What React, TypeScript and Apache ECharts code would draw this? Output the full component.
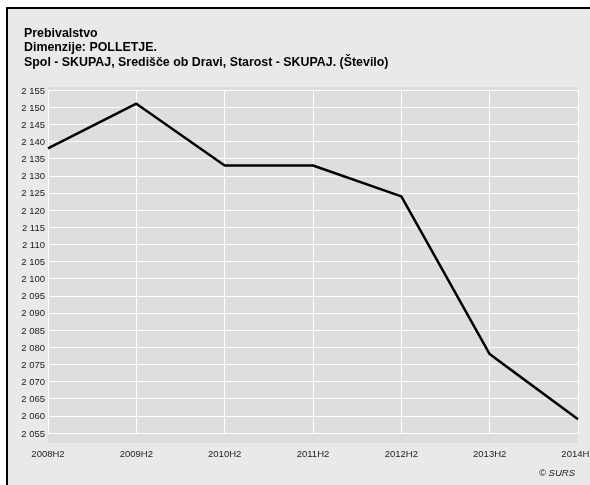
import React, { useEffect, useRef } from "react";
import * as echarts from "echarts";

const categories = ["2008H2", "2009H2", "2010H2", "2011H2", "2012H2", "2013H2", "2014H1"];
const values = [2138, 2151, 2133, 2133, 2124, 2078, 2059];
const titleLines = [
  "Prebivalstvo",
  "Dimenzije: POLLETJE.",
  "Spol - SKUPAJ, Središče ob Dravi, Starost - SKUPAJ. (Število)",
];
const yMin = 2055;
const yMax = 2155;
const yStep = 5;

const FONT = "'Liberation Sans', Arial, sans-serif";

export default function App() {
  const ref = useRef<HTMLDivElement>(null);
  useEffect(() => {
    const chart = echarts.init(ref.current!, undefined, { renderer: "svg" });
    chart.setOption({
      animation: false,
      grid: {
        left: 48,
        right: 12,
        top: 90,
        bottom: 52,
        containLabel: false,
        outerBoundsMode: "none",
      },
      graphic: [
        {
          type: "rect",
          z: -10,
          shape: { x: 7, y: 8, width: 600, height: 500 },
          style: { fill: "#e9e9e9", stroke: "#000", lineWidth: 2 },
        },
        {
          type: "rect",
          z: -9,
          shape: { x: 48, y: 87, width: 530, height: 356 },
          style: { fill: "#dedede" },
        },
        ...titleLines.map((t, i) => ({
          type: "text",
          z: 10,
          x: 24,
          y: [33, 47, 62][i],
          style: {
            text: t,
            font: `bold 12.4px ${FONT}`,
            fill: "#000",
            verticalAlign: "middle",
          },
        })),
        {
          type: "text",
          z: 10,
          x: 575,
          y: 472,
          style: {
            text: "© SURS",
            font: `italic 9.5px ${FONT}`,
            fill: "#222",
            align: "right",
            verticalAlign: "middle",
          },
        },
      ],
      xAxis: {
        type: "category",
        data: categories,
        boundaryGap: false,
        axisLine: { show: false },
        axisTick: { show: false },
        axisLabel: { fontSize: 9.5, color: "#222", fontFamily: FONT, margin: 15 },
        splitLine: { show: true, lineStyle: { color: "#fff", width: 1 } },
      },
      yAxis: {
        type: "value",
        min: yMin,
        max: yMax,
        interval: yStep,
        axisLine: { show: false },
        axisTick: { show: false },
        axisLabel: {
          fontSize: 9.5,
          color: "#222",
          fontFamily: FONT,
          margin: 3,
          formatter: (v: number) => {
            const s = String(v);
            return s.length > 3 ? s.slice(0, s.length - 3) + " " + s.slice(-3) : s;
          },
        },
        splitLine: { show: true, lineStyle: { color: "#fff", width: 1 } },
      },
      series: [
        {
          type: "line",
          data: values,
          showSymbol: false,
          symbol: "none",
          lineStyle: { color: "#000", width: 2.5 },
          z: 5,
        },
      ],
    });
    return () => chart.dispose();
  }, []);
  return (
    <div
      ref={ref}
      style={{ position: "fixed", left: 0, top: 0, width: 590, height: 485 }}
    />
  );
}
